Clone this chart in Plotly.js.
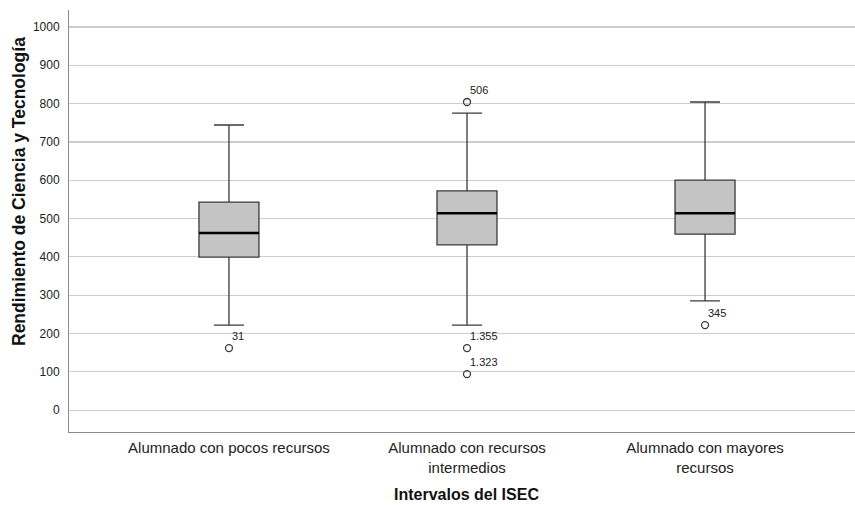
<!DOCTYPE html>
<html>
<head>
<meta charset="utf-8">
<script src="https://cdn.plot.ly/plotly-3.0.1.min.js"></script>
<style>html,body{margin:0;padding:0;background:#fff;}#chart{width:855px;height:505px;}</style>
</head>
<body>
<div id="chart"></div>
<script>
// Data
var categories = ["Alumnado con pocos recursos", "Alumnado con recursos<br>intermedios", "Alumnado con mayores<br>recursos"];
var q1 = [399, 431, 459];
var medians = [462, 514, 514];
var q3 = [543, 572, 600];
var lowerWhisker = [222, 222, 285];
var upperWhisker = [744, 775, 804];
var outlierCat = [0, 1, 1, 1, 2];
var outlierVal = [162, 804, 162, 94, 222];
var outlierLabels = ["31", "506", "1.355", "1.323", "345"];
var yTicks = [0, 100, 200, 300, 400, 500, 600, 700, 800, 900, 1000];
var xTitle = "Intervalos del ISEC";
var yTitle = "Rendimiento de Ciencia y Tecnología";

var FONT = 'Liberation Sans, Arial, sans-serif';
var boxW = 0.252;
var traces = [];
traces.push({
  type: 'box',
  x: [0, 1, 2],
  q1: q1, median: medians, q3: q3,
  lowerfence: lowerWhisker, upperfence: upperWhisker,
  width: boxW,
  whiskerwidth: 0.5,
  fillcolor: '#c3c4c3',
  line: {color: '#3a3a3a', width: 1.3},
  boxpoints: false,
  hoverinfo: 'skip',
  showlegend: false
});
for (var i = 0; i < medians.length; i++) {
  traces.push({
    type: 'scatter', mode: 'lines',
    x: [i - boxW / 2, i + boxW / 2], y: [medians[i], medians[i]],
    line: {color: '#000', width: 2.5},
    showlegend: false, hoverinfo: 'skip'
  });
}
traces.push({
  type: 'scatter', mode: 'markers',
  x: outlierCat, y: outlierVal,
  marker: {symbol: 'circle-open', size: 7, color: '#3a3a3a', line: {width: 1.3, color: '#3a3a3a'}},
  showlegend: false, hoverinfo: 'skip'
});

var annotations = outlierLabels.map(function (t, k) {
  return {
    x: outlierCat[k], y: outlierVal[k], xref: 'x', yref: 'y',
    text: t, showarrow: false, xanchor: 'left', yanchor: 'middle',
    xshift: 1, yshift: 12,
    font: {family: FONT, size: 11, color: '#222'}
  };
});
annotations.push({
  xref: 'paper', yref: 'paper', x: (19 - 69) / 786, y: (432 - 192) / 422,
  text: '<b>' + yTitle + '</b>', textangle: -90, showarrow: false,
  xanchor: 'center', yanchor: 'middle',
  font: {family: FONT, size: 17.5, color: '#111'}
});
annotations.push({
  xref: 'paper', yref: 'paper', x: (466 - 69) / 786, y: (432 - 494) / 422,
  text: '<b>' + xTitle + '</b>', showarrow: false,
  xanchor: 'center', yanchor: 'middle',
  font: {family: FONT, size: 16, color: '#111'}
});

var layout = {
  width: 855, height: 505,
  margin: {l: 69, r: 0, t: 10, b: 73},
  paper_bgcolor: '#fff', plot_bgcolor: '#fff',
  font: {family: FONT, color: '#222'},
  annotations: annotations,
  xaxis: {
    range: [-0.672, 2.63],
    tickmode: 'array', tickvals: [0, 1, 2], ticktext: categories,
    tickfont: {size: 15, family: FONT, color: '#222'},
    showgrid: false, zeroline: false,
    showline: true, linecolor: '#8a8a8a', linewidth: 1,
    ticks: '', ticklabelstandoff: 2
  },
  yaxis: {
    range: [-57, 1044],
    tickmode: 'array', tickvals: yTicks,
    tickfont: {size: 12, color: '#222'},
    showgrid: true, gridcolor: '#cdcdcd', gridwidth: 1.3,
    zeroline: false,
    showline: true, linecolor: '#8a8a8a', linewidth: 1,
    ticks: '', ticklabelstandoff: 6
  }
};

Plotly.newPlot('chart', traces, layout, {staticPlot: true, displayModeBar: false});
</script>
</body>
</html>
